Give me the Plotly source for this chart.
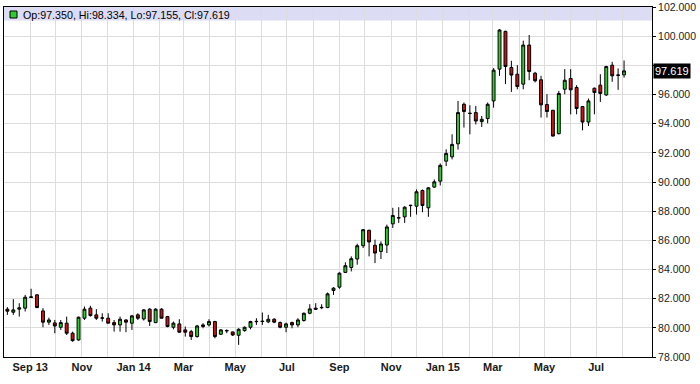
import pandas as pd
import plotly.graph_objects as go

# ---- data (weekly candles, US dollar index style) ----
first_week = "2013-08-05"

opens = [81.28, 81.07, 81.28, 81.35, 82.08, 82.26, 81.16, 80.39, 80.34, 80.04,
         80.32, 79.63, 79.17, 80.66, 81.35, 80.89, 80.66, 80.66, 80.36, 80.20,
         80.54, 80.32, 80.89, 80.61, 81.28, 80.36, 81.28, 80.77, 80.04, 80.27,
         79.86, 79.74, 79.40, 80.09, 80.20, 80.43, 79.56, 79.79, 79.72, 79.49,
         79.81, 80.04, 80.42, 80.43, 80.41, 80.59, 80.36, 80.04, 80.36, 80.20,
         80.50, 81.00, 81.35, 81.38, 81.39, 82.56, 82.79, 83.80, 84.14, 84.72,
         85.63, 86.69, 85.66, 85.24, 85.68, 87.13, 87.53, 87.61, 88.38, 88.34,
         89.42, 88.23, 89.65, 90.06, 91.43, 91.73, 92.62, 95.33, 94.72, 94.76,
         94.14, 94.35, 95.56, 97.74, 100.33, 97.85, 97.39, 96.71, 99.39, 97.46,
         97.01, 95.31, 94.92, 93.31, 96.36, 97.10, 96.48, 95.17, 94.11, 96.43,
         96.64, 95.97, 98.01, 97.34, 97.350]
highs = [81.42, 81.97, 81.69, 82.26, 82.68, 82.31, 81.35, 80.70, 80.54, 80.54,
         80.77, 79.74, 80.77, 81.46, 81.51, 81.28, 81.00, 81.00, 80.54, 80.77,
         80.59, 80.89, 81.00, 81.28, 81.35, 81.35, 81.35, 80.82, 80.43, 80.59,
         80.09, 79.86, 80.20, 80.32, 80.59, 80.48, 79.90, 79.90, 79.74, 79.97,
         80.09, 80.48, 80.66, 81.05, 80.89, 80.66, 80.43, 80.36, 80.43, 80.66,
         81.05, 81.62, 81.69, 81.62, 82.42, 82.79, 83.80, 84.49, 84.90, 85.77,
         86.78, 86.73, 86.05, 85.93, 87.08, 88.23, 88.27, 88.34, 88.43, 89.49,
         89.49, 89.65, 90.17, 91.27, 92.24, 93.27, 95.56, 95.45, 95.26, 95.21,
         94.53, 95.45, 97.81, 100.49, 100.37, 98.31, 98.01, 99.69, 100.08, 97.55,
         97.28, 96.02, 94.94, 96.25, 97.74, 97.74, 96.64, 95.21, 95.72, 96.48,
         97.39, 97.97, 98.24, 97.79, 98.334]
lows = [80.89, 80.89, 80.77, 81.12, 82.05, 81.35, 80.04, 80.20, 79.63, 79.86,
        79.51, 79.05, 79.12, 80.54, 80.77, 80.54, 80.43, 80.30, 79.74, 79.74,
        79.70, 79.86, 80.54, 80.50, 80.13, 80.32, 80.64, 80.04, 79.90, 79.67,
        79.40, 79.17, 79.33, 79.97, 80.09, 79.28, 79.51, 79.63, 79.44, 78.83,
        79.74, 79.90, 80.20, 80.20, 80.32, 80.32, 79.97, 79.70, 79.97, 80.04,
        80.43, 80.93, 81.23, 81.28, 81.35, 82.26, 82.68, 83.76, 83.87, 84.33,
        85.47, 84.90, 84.44, 84.72, 85.13, 86.85, 87.19, 87.19, 87.61, 87.77,
        87.93, 87.61, 89.60, 89.76, 91.09, 91.55, 92.22, 93.73, 93.27, 93.95,
        93.77, 94.02, 95.10, 97.28, 96.71, 96.18, 96.36, 96.36, 96.98, 96.83,
        94.42, 94.42, 93.12, 93.27, 96.02, 94.64, 94.64, 93.54, 93.84, 94.64,
        95.49, 95.90, 96.87, 96.32, 97.155]
closes = [81.14, 81.23, 81.37, 82.10, 82.12, 81.39, 80.39, 80.54, 80.13, 80.36,
          79.63, 79.12, 80.73, 81.28, 80.84, 80.66, 80.68, 80.32, 80.20, 80.59,
          80.39, 80.82, 80.66, 81.23, 80.43, 81.28, 80.66, 80.09, 80.32, 79.70,
          79.70, 79.40, 80.13, 80.20, 80.43, 79.40, 79.86, 79.81, 79.51, 79.90,
          80.04, 80.43, 80.44, 80.45, 80.59, 80.39, 80.04, 80.27, 80.20, 80.54,
          81.00, 81.30, 81.28, 81.40, 82.33, 82.72, 83.75, 84.26, 84.74, 85.63,
          86.73, 85.89, 85.13, 85.75, 86.92, 87.70, 87.55, 88.27, 88.40, 89.33,
          88.39, 89.60, 90.01, 91.14, 91.96, 92.58, 94.76, 94.83, 94.70, 94.18,
          94.30, 95.33, 97.67, 100.42, 97.92, 97.33, 96.55, 99.39, 97.58, 96.94,
          95.29, 94.83, 93.15, 96.07, 96.98, 96.32, 95.04, 94.11, 95.56, 96.14,
          96.07, 97.92, 97.28, 97.32, 97.619]

x_tick_dates = ["2013-08-01", "2013-09-01", "2013-10-01", "2013-11-01", "2013-12-01",
                "2014-01-01", "2014-02-01", "2014-03-01", "2014-04-01", "2014-05-01",
                "2014-06-01", "2014-07-01", "2014-08-01", "2014-09-01", "2014-10-01",
                "2014-11-01", "2014-12-01", "2015-01-01", "2015-02-01", "2015-03-01",
                "2015-04-01", "2015-05-01", "2015-06-01", "2015-07-01", "2015-08-01"]
x_tick_text = ["", "Sep 13", "", "Nov", "", "Jan 14", "", "Mar", "", "May", "", "Jul", "",
               "Sep", "", "Nov", "", "Jan 15", "", "Mar", "", "May", "", "Jul", ""]

y_tick_vals = [78, 80, 82, 84, 86, 88, 90, 92, 94, 96, 98, 100, 102]
y_tick_text = ["78.000", "80.000", "82.000", "84.000", "86.000", "88.000", "90.000",
               "92.000", "94.000", "96.000", "", "100.000", "102.000"]

dates = pd.date_range(first_week, periods=len(opens), freq="7D")

last_o, last_h, last_l, last_c = opens[-1], highs[-1], lows[-1], closes[-1]
legend_text = f"Op:{last_o:.3f}, Hi:{last_h:.3f}, Lo:{last_l:.3f}, Cl:{last_c:.3f}"

GREEN = "#2fcc2f"
RED = "#c81414"
FONT = "Liberation Sans, Arial, sans-serif"

fig = go.Figure(go.Candlestick(
    x=dates, open=opens, high=highs, low=lows, close=closes,
    increasing=dict(fillcolor=GREEN, line=dict(color="#000000", width=1)),
    decreasing=dict(fillcolor=RED, line=dict(color="#000000", width=1)),
    whiskerwidth=0,
    showlegend=False,
    hoverinfo="skip",
))

fig.update_layout(
    width=700, height=384,
    autosize=False,
    margin=dict(l=4, r=48, t=7, b=27, pad=0, autoexpand=False),
    paper_bgcolor="white",
    plot_bgcolor="rgba(0,0,0,0)",
    font=dict(family=FONT, color="#222222"),
    xaxis=dict(
        type="date",
        automargin=False,
        range=["2013-08-01", "2015-09-05"],
        rangeslider=dict(visible=False),
        tickmode="array", tickvals=x_tick_dates, ticktext=x_tick_text,
        showgrid=True, gridcolor="#dcdcdc", gridwidth=1,
        ticks="", showline=True, linecolor="#000000", linewidth=1, mirror=True,
        tickfont=dict(family=FONT, size=11, color="#1a1a1a", weight="bold"),
        zeroline=False,
    ),
    yaxis=dict(
        side="right",
        automargin=False,
        range=[78, 102],
        tickmode="array", tickvals=y_tick_vals, ticktext=y_tick_text,
        showgrid=True, gridcolor="#dcdcdc", gridwidth=1,
        ticks="outside", ticklen=3, tickcolor="#000000",
        showline=True, linecolor="#000000", linewidth=1, mirror=True,
        tickfont=dict(family=FONT, size=10.5, color="#222222"),
        zeroline=False,
    ),
    shapes=[
        dict(type="rect", xref="paper", yref="paper", x0=0, x1=1,
             y0=(357 - 20.5) / 350, y1=1, fillcolor="#dcdcf5",
             line=dict(width=0), layer="below"),
        dict(type="rect", xref="paper", yref="paper",
             x0=(10 - 4) / 648, x1=(17 - 4) / 648,
             y0=(357 - 18) / 350, y1=(357 - 11) / 350,
             fillcolor=GREEN, line=dict(color="#000000", width=1), layer="above"),
    ],
    annotations=[
        dict(text=legend_text, xref="paper", yref="paper",
             x=(21 - 4) / 648, y=(357 - 14.5) / 350, xanchor="left", yanchor="middle",
             showarrow=False, font=dict(family=FONT, size=10.7, color="#000000")),
        dict(text=f"{last_c:.3f}", xref="paper", yref="y",
             x=1, xshift=1, y=last_c, xanchor="left", yanchor="middle",
             showarrow=False, bgcolor="#000000", borderpad=1,
             font=dict(family=FONT, size=11, color="#ffffff")),
    ],
)

fig.write_html("out.html", config={"displayModeBar": False},
               post_script="document.body.style.margin='0px';")
